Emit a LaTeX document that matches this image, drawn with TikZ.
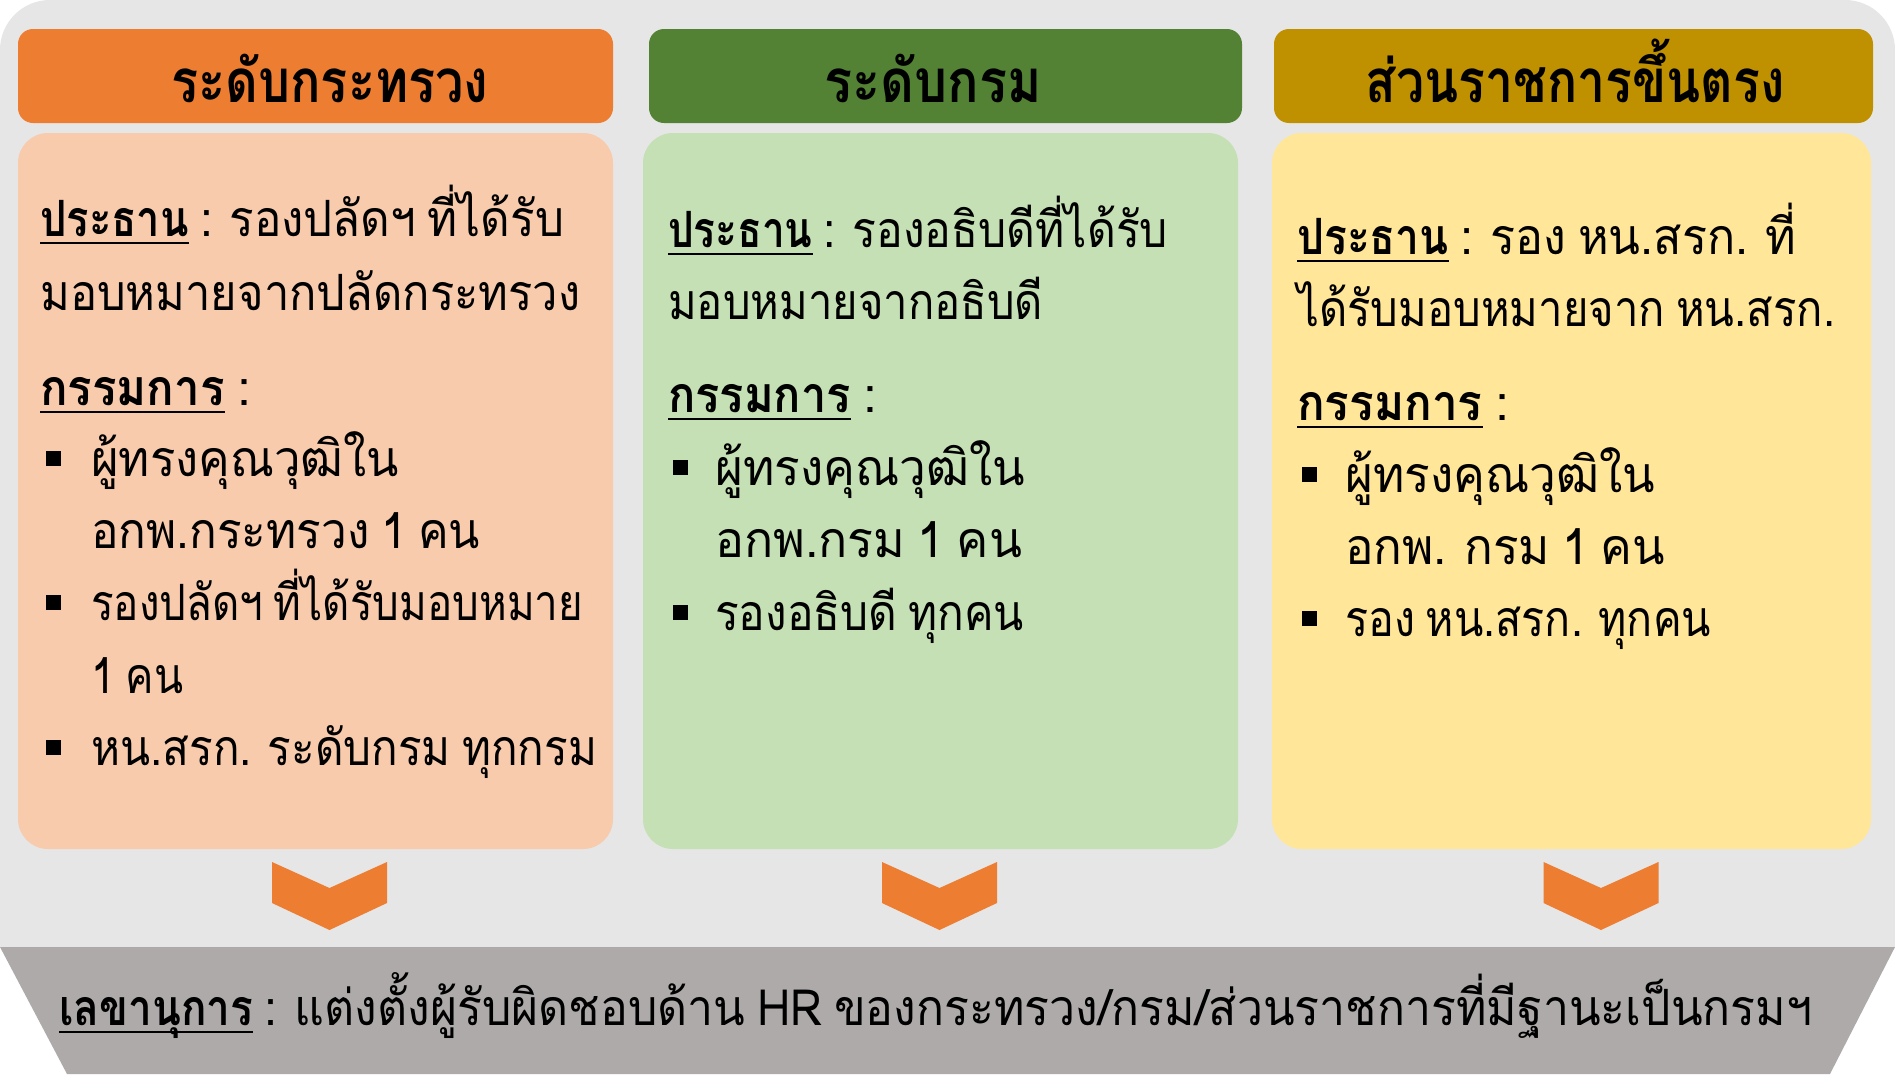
\documentclass[tikz,border=0pt]{standalone}
\usepackage{fontspec}
\usepackage{graphicx}
\newfontfamily\thai[Script=Thai,FakeStretch=0.91,WordSpace=0.75,BoldFeatures={FakeStretch=0.83}]{Loma}
\definecolor{bgA}{HTML}{E6E6E6}
\definecolor{bandC}{HTML}{AEAAAA}
\definecolor{orgC}{HTML}{ED7D31}
\definecolor{grnC}{HTML}{548235}
\definecolor{gldC}{HTML}{BF9000}
\definecolor{peaC}{HTML}{F8CBAD}
\definecolor{lgrC}{HTML}{C5E0B4}
\definecolor{ylwC}{HTML}{FFE699}
\newcommand\thul[1]{\setbox0=\hbox{#1}\rlap{\rule[-8pt]{\wd0}{2.5pt}}\box0\relax}
\newcommand\fw[2]{\resizebox{#1pt}{\height}{#2}}
\tikzset{
  txt/.style={anchor=base west, inner sep=0pt, font=\thai\fontsize{50}{56}\selectfont},
  headtxt/.style={anchor=base, inner sep=0pt, font=\thai\bfseries\fontsize{60}{64}\selectfont},
  bottxt/.style={anchor=base west, inner sep=0pt, font=\thai\fontsize{50}{56}\selectfont},
  bul/.style={fill=black, inner sep=0pt, minimum size=15pt},
  hdr/.style={rounded corners=15pt},
  bdy/.style={rounded corners=30pt},
}
\begin{document}
\begin{tikzpicture}[x=1pt,y=-1pt]
\useasboundingbox (0,0) rectangle (1895,1074);
\fill[white] (0,0) rectangle (1895,1074);
% outer background
\fill[bgA] (0,947) -- (0,50) arc[start angle=180,end angle=270,radius=50] -- (1845,0) arc[start angle=270,end angle=360,radius=50] -- (1895,947) -- cycle;
% bottom band
\fill[bandC] (0,947) -- (1895,947) -- (1830,1074) -- (67,1074) -- cycle;
% headers
\fill[orgC, hdr] (18,29) rectangle (613,123);
\fill[grnC, hdr] (649,29) rectangle (1242,123);
\fill[gldC, hdr] (1274,29) rectangle (1873,123);
% bodies
\fill[peaC, bdy] (18,133) rectangle (613,849);
\fill[lgrC, bdy] (643,133) rectangle (1238,849);
\fill[ylwC, bdy] (1272,133) rectangle (1871,849);
% chevrons
\foreach \cx in {329.5,939.5,1601}{
  \fill[orgC] (\cx-57.5,862) -- (\cx,888) -- (\cx+57.5,862) -- (\cx+57.5,903) -- (\cx,930) -- (\cx-57.5,903) -- cycle;
}
% header texts
\node[headtxt] (h1) at (330,102) {\fw{317}{ระดับกระทรวง}};
\node[headtxt] (h2) at (933,102) {\fw{217}{ระดับกรม}};
\node[headtxt] (h3) at (1575,102) {\fw{419}{ส่วนราชการขึ้นตรง}};
% left column
\node[txt] (a1) at (40,236) {\fw{524}{\thul{\bfseries ประธาน} : รองปลัดฯ ที่ได้รับ}};
\node[txt] (a2) at (40,310) {\fw{540}{มอบหมายจากปลัดกระทรวง}};
\node[txt] (a3) at (40,405) {\fw{211}{\thul{\bfseries กรรมการ} :}};
\node[bul] (ab1) at (53.5,458) {};
\node[txt] (a4) at (91,476) {\fw{308}{ผู้ทรงคุณวุฒิใน}};
\node[txt] (a5) at (91,548) {\fw{389}{อกพ.กระทรวง 1 คน}};
\node[bul] (ab2) at (53.5,602) {};
\node[txt] (a6) at (91,620) {\fw{492}{รองปลัดฯ ที่ได้รับมอบหมาย}};
\node[txt] (a7) at (91,693) {\fw{92}{1 คน}};
\node[bul] (ab3) at (53.5,747) {};
\node[txt] (a8) at (91,765) {\fw{506}{หน.สรก. ระดับกรม ทุกกรม}};
% middle column
\node[txt] (b1) at (668,247) {\fw{500}{\thul{\bfseries ประธาน} : รองอธิบดีที่ได้รับ}};
\node[txt] (b2) at (668,319) {\fw{375}{มอบหมายจากอธิบดี}};
\node[txt] (b3) at (668,412) {\fw{209}{\thul{\bfseries กรรมการ} :}};
\node[bul] (bb1) at (680.5,467) {};
\node[txt] (b4) at (715,485) {\fw{310}{ผู้ทรงคุณวุฒิใน}};
\node[txt] (b5) at (715,557) {\fw{307}{อกพ.กรม 1 คน}};
\node[bul] (bb2) at (680.5,612) {};
\node[txt] (b6) at (715,630) {\fw{309}{รองอธิบดี ทุกคน}};
% right column
\node[txt] (c1) at (1297,254) {\fw{499}{\thul{\bfseries ประธาน} : รอง หน.สรก. ที่}};
\node[txt] (c2) at (1297,326) {\fw{538}{ได้รับมอบหมายจาก หน.สรก.}};
\node[txt] (c3) at (1297,420) {\fw{212}{\thul{\bfseries กรรมการ} :}};
\node[bul] (cb1) at (1309.5,474) {};
\node[txt] (c4) at (1345,492) {\fw{310}{ผู้ทรงคุณวุฒิใน}};
\node[txt] (c5) at (1345,564) {\fw{320}{อกพ. กรม 1 คน}};
\node[bul] (cb2) at (1309.5,618) {};
\node[txt] (c6) at (1345,636) {\fw{366}{รอง หน.สรก. ทุกคน}};
% bottom text
\node[bottxt] (s1) at (59,1025) {\fw{1753}{\thul{\bfseries เลขานุการ} : แต่งตั้งผู้รับผิดชอบด้าน HR ของกระทรวง/กรม/ส่วนราชการที่มีฐานะเป็นกรมฯ}};
\end{tikzpicture}
\end{document}
